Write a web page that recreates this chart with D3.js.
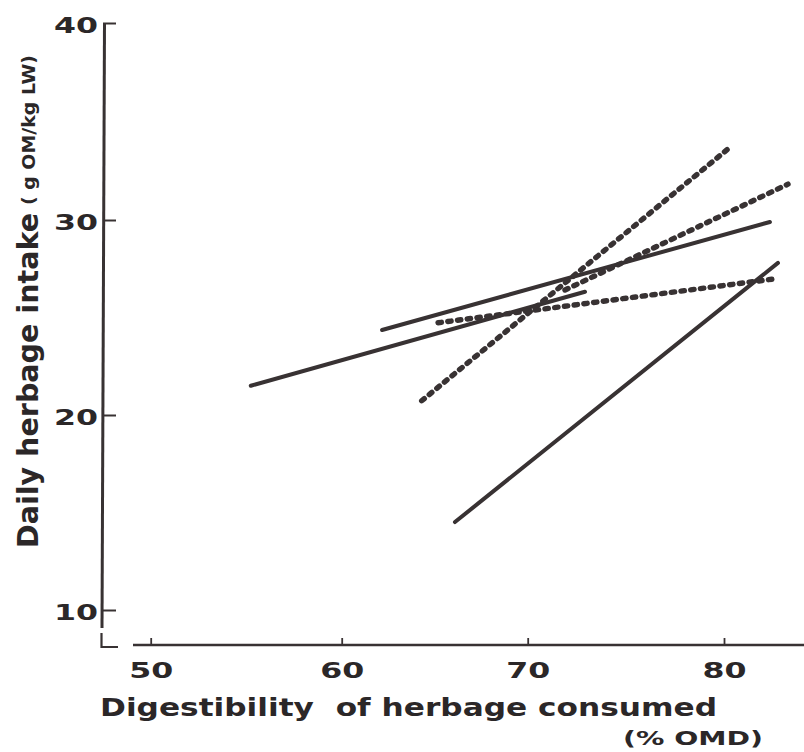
<!DOCTYPE html>
<html>
<head>
<meta charset="utf-8">
<script src="https://cdn.jsdelivr.net/npm/d3@7"></script>
<style>
  html, body { margin: 0; padding: 0; background: #fff; }
  svg { display: block; }
  text { fill: #2b2728; font-family: "DejaVu Sans", sans-serif; }
</style>
</head>
<body>
<div id="chart"></div>
<script>
// Regression lines of daily herbage intake against digestibility (% OMD)
// Each line is given by its two end points [OMD, intake].
const lineA = [[55.24, 21.50], [72.92, 26.32]];
const lineB = [[62.17, 24.36], [82.34, 29.90]];
const lineC = [[66.09, 14.51], [82.75, 27.80]];
const lineD = [[64.30, 20.73], [80.39, 33.76]];
const lineE = [[71.90, 26.41], [83.26, 31.82]];
const lineF = [[65.18, 24.73], [82.50, 26.97]];

const solidLines = [lineA, lineB, lineC];
const dashedLines = [lineD, lineE, lineF];

const xTicks = [50, 60, 70, 80];
const yTicks = [10, 20, 30, 40];

const W = 804, H = 752;
const ink = "#383233";

const svg = d3.select("#chart").append("svg")
  .attr("width", W).attr("height", H);

// hand-ruled axes are slightly uneven, so the scales are piecewise
const x = d3.scaleLinear()
  .domain([50, 60, 70, 80, 90])
  .range([150.7, 341.7, 527.7, 724, 920.3]);
const y = d3.scaleLinear()
  .domain([10, 20, 30, 40])
  .range([610, 415, 220, 23]);

// y axis
const yAxis = svg.append("g")
  .attr("transform", "translate(103,0)")
  .call(d3.axisLeft(y).tickValues(yTicks).tickSizeInner(-13).tickSizeOuter(0).tickPadding(5));
yAxis.select(".domain").remove();
yAxis.selectAll(".tick line").attr("stroke", ink).attr("stroke-width", 2);
yAxis.selectAll(".tick text")
  .attr("font-size", 21).attr("font-weight", "bold")
  .attr("dy", "0.45em")
  .attr("textLength", 44).attr("lengthAdjust", "spacingAndGlyphs")
  .style("fill", "#2b2728");

svg.append("path")
  .attr("d", "M104.5,23 L102,628")
  .attr("stroke", ink).attr("stroke-width", 3).attr("fill", "none");
svg.append("path")
  .attr("d", "M101.5,633 V647 H118")
  .attr("stroke", ink).attr("stroke-width", 2.2).attr("fill", "none");

// x axis
const xAxis = svg.append("g")
  .attr("transform", "translate(0,645)")
  .call(d3.axisBottom(x).tickValues(xTicks).tickSizeInner(-7).tickSizeOuter(0).tickPadding(18));
xAxis.select(".domain").remove();
xAxis.selectAll(".tick line").attr("stroke", ink).attr("stroke-width", 1.8);
xAxis.selectAll(".tick text")
  .attr("font-size", 21).attr("font-weight", "bold")
  .attr("textLength", 44).attr("lengthAdjust", "spacingAndGlyphs")
  .style("fill", "#2b2728");

svg.append("path")
  .attr("d", "M133,645 H804")
  .attr("stroke", ink).attr("stroke-width", 2.4).attr("fill", "none");

// axis titles
svg.append("text")
  .attr("x", 100).attr("y", 716)
  .attr("font-size", 25).attr("font-weight", "bold")
  .attr("textLength", 617).attr("lengthAdjust", "spacingAndGlyphs")
  .style("white-space", "pre")
  .text("Digestibility  of herbage consumed");
svg.append("text")
  .attr("x", 623).attr("y", 745)
  .attr("font-size", 20).attr("font-weight", "bold")
  .attr("textLength", 140).attr("lengthAdjust", "spacingAndGlyphs")
  .text("(% OMD)");

svg.append("text")
  .attr("transform", "translate(38,548) rotate(-90)")
  .attr("font-size", 29).attr("font-weight", "bold")
  .attr("textLength", 335).attr("lengthAdjust", "spacingAndGlyphs")
  .text("Daily herbage intake");
svg.append("text")
  .attr("transform", "translate(35,205) rotate(-90)")
  .attr("font-size", 18).attr("font-weight", "bold")
  .attr("textLength", 150).attr("lengthAdjust", "spacingAndGlyphs")
  .style("white-space", "pre")
  .text("( g OM/kg LW)");

// regression lines
const line = d3.line().x(d => x(d[0])).y(d => y(d[1]));

svg.append("g").selectAll("path")
  .data(solidLines).join("path")
  .attr("d", line)
  .attr("fill", "none").attr("stroke", ink)
  .attr("stroke-width", 4).attr("stroke-linecap", "round");

svg.append("g").selectAll("path")
  .data(dashedLines).join("path")
  .attr("d", line)
  .attr("fill", "none").attr("stroke", ink)
  .attr("stroke-width", 5.4).attr("stroke-linecap", "round")
  .attr("stroke-dasharray", "3.4 6.4");
</script>
</body>
</html>
